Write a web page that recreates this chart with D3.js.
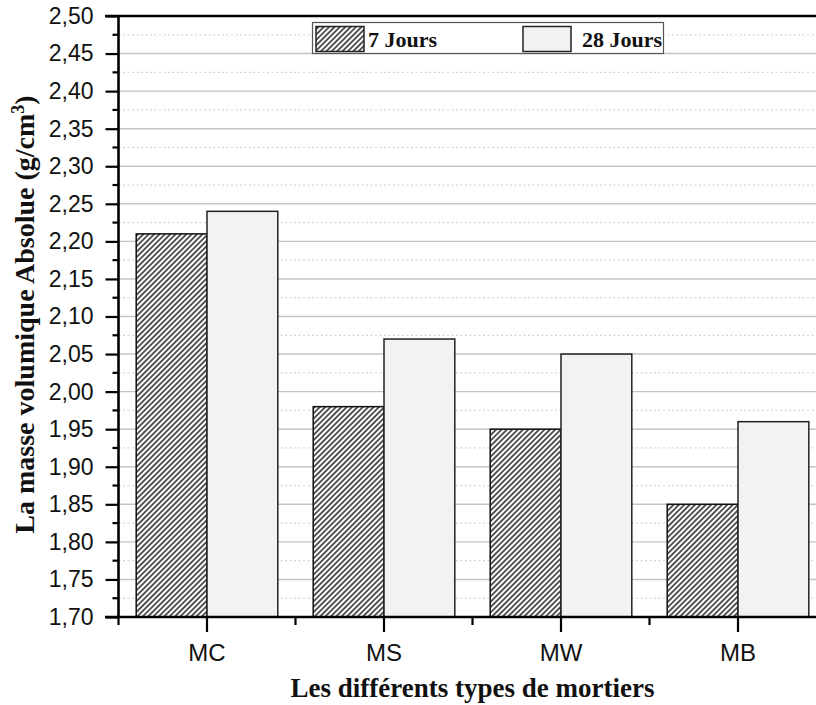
<!DOCTYPE html>
<html><head><meta charset="utf-8">
<script src="https://cdn.jsdelivr.net/npm/d3@7"></script>
<style>html,body{margin:0;padding:0;background:#fff;}svg{display:block;}</style>
</head><body>
<svg id="chart" width="816" height="705"></svg>
<script>
const categories = ["MC", "MS", "MW", "MB"];
const seriesNames = ["7 Jours", "28 Jours"];
const values7 = [2.21, 1.98, 1.95, 1.85];
const values28 = [2.24, 2.07, 2.05, 1.96];
const yTicks = d3.range(0, 17).map(i => +(1.70 + i * 0.05).toFixed(2));
const yMinor = d3.range(0, 16).map(i => +(1.725 + i * 0.05).toFixed(3));

(function () {
const svg = d3.select("#chart");
const W = 816, H = 705;
const pL = 118.5, pR = 826.5, pT = 16, pB = 617;

const x = d3.scaleBand().domain(categories).range([pL, pR]).padding(0);
const y = d3.scaleLinear().domain([1.70, 2.50]).range([pB, pT]);
const barW = x.bandwidth() * 0.4;

const defs = svg.append("defs");
const pat = defs.append("pattern").attr("id", "hatch").attr("patternUnits", "userSpaceOnUse")
  .attr("width", 3.8).attr("height", 3.8).attr("patternTransform", "rotate(45)");
pat.append("rect").attr("width", 3.8).attr("height", 3.8).attr("fill", "#fff");
pat.append("line").attr("x1", 1).attr("y1", 0).attr("x2", 1).attr("y2", 3.8)
  .attr("stroke", "#000").attr("stroke-width", 1.3);

const clip = defs.append("clipPath").attr("id", "plotclip");
clip.append("rect").attr("x", pL).attr("y", pT).attr("width", W - pL).attr("height", pB - pT);

// gridlines
const g = svg.append("g").attr("clip-path", "url(#plotclip)");
g.selectAll("line.minor").data(yMinor).join("line").attr("class", "minor")
  .attr("x1", pL).attr("x2", W).attr("y1", d => y(d)).attr("y2", d => y(d))
  .attr("stroke", "#d6d6d6").attr("stroke-width", 1.2).attr("stroke-dasharray", "2,2.5");
g.selectAll("line.major").data(yTicks).join("line").attr("class", "major")
  .attr("x1", pL).attr("x2", W).attr("y1", d => y(d)).attr("y2", d => y(d))
  .attr("stroke", "#c4c4c4").attr("stroke-width", 1.4);

// bars
const bars = svg.append("g");
bars.selectAll("rect.b7").data(categories).join("rect").attr("class", "b7")
  .attr("x", d => x(d) + x.bandwidth() / 2 - barW)
  .attr("y", (d, i) => y(values7[i]))
  .attr("width", barW)
  .attr("height", (d, i) => pB - y(values7[i]))
  .attr("fill", "url(#hatch)").attr("stroke", "#111").attr("stroke-width", 1.5);
bars.selectAll("rect.b28").data(categories).join("rect").attr("class", "b28")
  .attr("x", d => x(d) + x.bandwidth() / 2)
  .attr("y", (d, i) => y(values28[i]))
  .attr("width", barW)
  .attr("height", (d, i) => pB - y(values28[i]))
  .attr("fill", "#f2f2f2").attr("stroke", "#222").attr("stroke-width", 1.5);

// top line
svg.append("line").attr("x1", 105).attr("x2", W).attr("y1", pT).attr("y2", pT)
  .attr("stroke", "#000").attr("stroke-width", 2.6);

// y axis
const yAxis = d3.axisLeft(y).tickValues(yTicks).tickSize(13).tickPadding(12)
  .tickFormat(d => d3.format(".2f")(d).replace(".", ","));
const ya = svg.append("g").attr("transform", `translate(${pL},0)`).call(yAxis);
ya.select(".domain").attr("stroke-width", 2.6).attr("d", `M0,${pT}V${pB}`);
ya.selectAll(".tick line").attr("stroke-width", 2.2);
ya.selectAll(".tick text").attr("font-family", "'Liberation Sans', Arial, sans-serif")
  .attr("font-size", 23).attr("fill", "#111");
ya.selectAll("line.yminor").data(yMinor).join("line").attr("class", "yminor")
  .attr("x1", -6).attr("x2", 0).attr("y1", d => y(d)).attr("y2", d => y(d))
  .attr("stroke", "#000").attr("stroke-width", 2.2);

// x axis
const xAxis = d3.axisBottom(x).tickSize(15).tickPadding(12);
const xa = svg.append("g").attr("transform", `translate(0,${pB})`).call(xAxis);
xa.select(".domain").attr("stroke-width", 2.6).attr("d", `M105,0H${W}`);
xa.selectAll(".tick line").attr("stroke-width", 2.2);
xa.selectAll(".tick text").attr("font-family", "'Liberation Sans', Arial, sans-serif")
  .attr("font-size", 24).attr("fill", "#111");
xa.selectAll("line.minorx").data(categories).join("line").attr("class", "minorx")
  .attr("x1", d => x(d)).attr("x2", d => x(d)).attr("y1", 0).attr("y2", 8)
  .attr("stroke", "#000").attr("stroke-width", 2.2);

// axis titles
svg.append("text").attr("x", (pL + pR) / 2).attr("y", 697)
  .attr("text-anchor", "middle").attr("font-family", "'Liberation Serif', 'Times New Roman', serif")
  .attr("font-weight", "bold").attr("font-size", 27).attr("fill", "#111")
  .text("Les différents types de mortiers");
const yt = svg.append("text").attr("transform", `translate(34,${(pT + pB) / 2 - 2}) rotate(-90)`)
  .attr("text-anchor", "middle").attr("font-family", "'Liberation Serif', 'Times New Roman', serif")
  .attr("font-weight", "bold").attr("font-size", 28).attr("fill", "#111");
yt.append("tspan").text("La masse volumique Absolue (g/cm");
yt.append("tspan").attr("baseline-shift", "super").attr("font-size", 18).text("3");
yt.append("tspan").text(")");

// legend
const lg = svg.append("g");
lg.append("rect").attr("x", 312.5).attr("y", 22.5).attr("width", 351).attr("height", 31)
  .attr("fill", "#fff").attr("stroke", "#555").attr("stroke-width", 1.2);
const legendItems = [{name: seriesNames[0], fill: "url(#hatch)", sx: 316, tx: 368},
                     {name: seriesNames[1], fill: "#f2f2f2", sx: 523, tx: 582}];
lg.selectAll("rect.sw").data(legendItems).join("rect").attr("class", "sw")
  .attr("x", d => d.sx).attr("y", 26.5).attr("width", 48).attr("height", 25)
  .attr("fill", d => d.fill).attr("stroke", "#222").attr("stroke-width", 1.5);
lg.selectAll("text.lt").data(legendItems).join("text").attr("class", "lt")
  .attr("x", d => d.tx).attr("y", 46.5)
  .attr("font-family", "'Liberation Serif', 'Times New Roman', serif")
  .attr("font-weight", "bold").attr("font-size", 22).attr("fill", "#111")
  .text(d => d.name);
})();
</script>
</body></html>
